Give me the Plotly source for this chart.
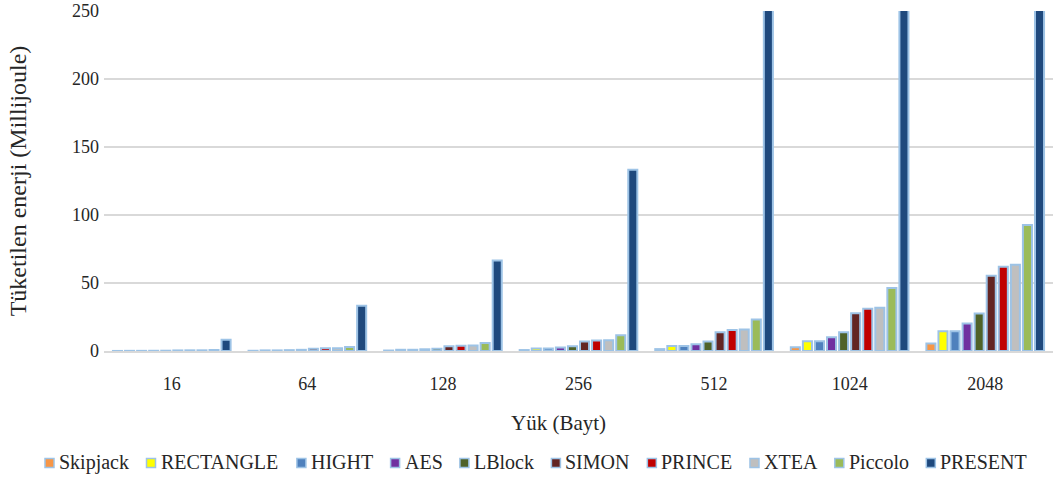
import plotly.graph_objects as go

# Payload sizes (bytes)
payloads = ["16", "64", "128", "256", "512", "1024", "2048"]

# Consumed energy per cipher (millijoule)
skipjack = [0.04, 0.17, 0.35, 0.7, 1.4, 2.8, 5.6]
rectangle = [0.11, 0.45, 0.9, 1.8, 3.6, 7.2, 14.6]
hight = [0.11, 0.45, 0.9, 1.8, 3.6, 7.2, 14.6]
aes = [0.16, 0.63, 1.26, 2.5, 5.0, 10.1, 20.2]
lblock = [0.22, 0.87, 1.74, 3.5, 6.9, 13.8, 27.6]
simon = [0.43, 1.73, 3.46, 6.9, 13.8, 27.7, 55.4]
prince = [0.49, 1.95, 3.9, 7.8, 15.5, 31.0, 62.0]
xtea = [0.5, 1.99, 3.98, 7.9, 15.9, 31.8, 63.5]
piccolo = [0.72, 2.9, 5.8, 11.6, 23.1, 46.3, 92.6]
present = [8.3, 33.3, 66.6, 133.2, 266.4, 532.8, 1065.6]

series_names = ["Skipjack", "RECTANGLE", "HIGHT", "AES", "LBlock",
                "SIMON", "PRINCE", "XTEA", "Piccolo", "PRESENT"]
series_values = [skipjack, rectangle, hight, aes, lblock,
                 simon, prince, xtea, piccolo, present]
series_colors = ["#F79646", "#FFFF00", "#4F81BD", "#7030A0", "#4F6228",
                 "#632523", "#C00000", "#BFBFBF", "#9BBB59", "#1F497D"]

FONT = "Liberation Serif"
TEXT_COLOR = "#262626"
OUTLINE = "#9DC3E6"

W, H = 1055, 492
ML, MR, MT, MB = 104, 2, 11, 141
PLOT_W = W - ML - MR
PLOT_H = H - MT - MB

fig = go.Figure()
for name, values, color in zip(series_names, series_values, series_colors):
    fig.add_trace(go.Bar(
        name=name,
        x=payloads,
        y=values,
        marker=dict(color=color, line=dict(color=OUTLINE, width=2)),
    ))

# Legend row drawn as swatches + labels, laid out with Times-metric widths
TIMES_W = {
    "A": 722, "B": 667, "C": 667, "E": 611, "G": 722, "H": 722, "I": 333,
    "L": 611, "M": 889, "N": 722, "O": 722, "P": 556, "R": 667, "S": 556,
    "T": 611, "X": 722, "a": 444, "c": 444, "i": 278, "j": 278, "k": 500,
    "l": 278, "o": 500, "p": 500,
}


def text_width(s, size):
    return sum(TIMES_W.get(ch, 500) for ch in s) / 1000.0 * size


LEG_SIZE = 20
LEG_LEFT, LEG_RIGHT = 45, 1025
LEG_Y = 462
SW = 9          # swatch size
SW_GAP = 3      # swatch to label
widths = [text_width(n, LEG_SIZE) for n in series_names]
used = sum(SW + SW_GAP + w for w in widths)
item_gap = (LEG_RIGHT - LEG_LEFT - used) / (len(series_names) - 1)


def px_to_paper_x(px):
    return (px - ML) / PLOT_W


def px_to_paper_y(py):
    return (H - MB - py) / PLOT_H


shapes = []
annotations = []
cursor = LEG_LEFT
for name, color, w in zip(series_names, series_colors, widths):
    shapes.append(dict(
        type="rect", xref="paper", yref="paper",
        x0=px_to_paper_x(cursor), x1=px_to_paper_x(cursor + SW),
        y0=px_to_paper_y(LEG_Y + SW / 2 + 1), y1=px_to_paper_y(LEG_Y - SW / 2 + 1),
        fillcolor=color, line=dict(color=OUTLINE, width=1.5),
    ))
    annotations.append(dict(
        text=name, xref="paper", yref="paper",
        x=px_to_paper_x(cursor + SW + SW_GAP), y=px_to_paper_y(LEG_Y),
        xanchor="left", yanchor="middle", showarrow=False,
        font=dict(family=FONT, size=LEG_SIZE, color=TEXT_COLOR),
    ))
    cursor += SW + SW_GAP + w + item_gap

# Horizontal axis title
annotations.append(dict(
    text="Yük (Bayt)", xref="paper", yref="paper",
    x=px_to_paper_x(558), y=px_to_paper_y(423),
    xanchor="center", yanchor="middle", showarrow=False,
    font=dict(family=FONT, size=21, color=TEXT_COLOR),
))

fig.update_layout(
    width=W,
    height=H,
    barmode="group",
    bargap=0.11,
    bargroupgap=0.25,
    showlegend=False,
    plot_bgcolor="white",
    paper_bgcolor="white",
    margin=dict(l=ML, r=MR, t=MT, b=MB, autoexpand=False),
    font=dict(family=FONT, size=18, color=TEXT_COLOR),
    xaxis=dict(
        showline=True,
        linecolor="#D9D9D9",
        linewidth=1.5,
        ticks="",
        tickfont=dict(family=FONT, size=18),
        ticklabelstandoff=16,
    ),
    yaxis=dict(
        title=dict(text="Tüketilen enerji (Millijoule)", font=dict(family=FONT, size=24), standoff=38),
        range=[0, 250],
        tickvals=[0, 50, 100, 150, 200, 250],
        showgrid=True,
        gridcolor="#D9D9D9",
        gridwidth=1.5,
        zeroline=False,
        showline=False,
        tickfont=dict(family=FONT, size=18),
        ticks="",
        ticklabelstandoff=4,
    ),
    shapes=shapes,
    annotations=annotations,
)

fig.write_html("out.html")
